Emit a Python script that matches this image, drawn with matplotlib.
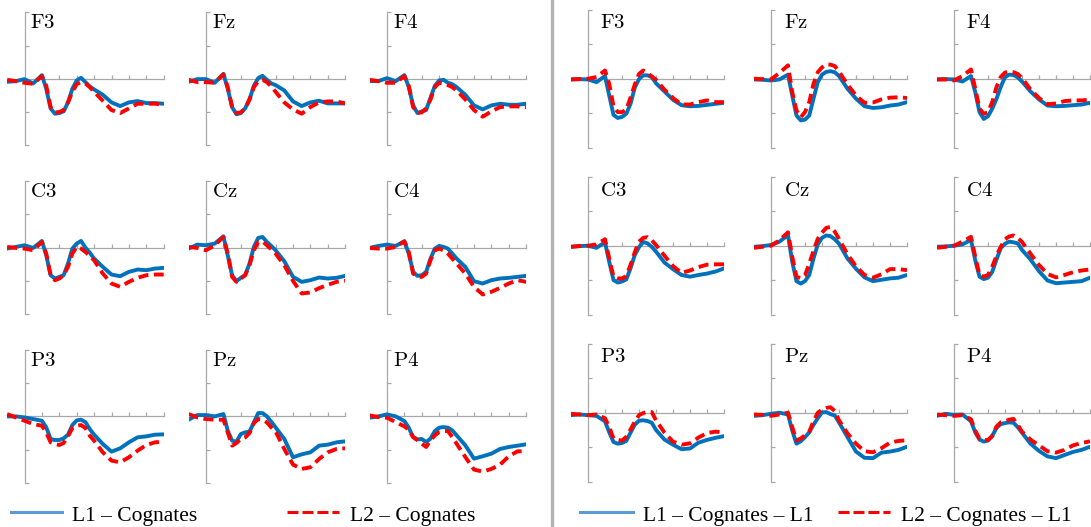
import matplotlib
matplotlib.use("Agg")
import matplotlib.pyplot as plt
from matplotlib.lines import Line2D

plt.rcParams['mathtext.fontset'] = 'cm'

# time axis (ms) shared by every trace
time_ms = [-100, -50, 0, 50, 100, 125, 150, 175, 200, 225, 250, 275, 300, 325, 350,
           375, 400, 450, 500, 550, 600, 650, 700, 750, 800]

electrodes = [["F3", "Fz", "F4"], ["C3", "Cz", "C4"], ["P3", "Pz", "P4"]]

# left panel: L1 - Cognates / L2 - Cognates
F3_L1 = [-0.09, -0.07, -0.01, -0.14, 0.11, -0.30, -0.89, -1.05, -1.03, -0.98, -0.71, -0.30, -0.05, 0.03, -0.10, -0.23, -0.32, -0.48, -0.71, -0.82, -0.71, -0.67, -0.73, -0.73, -0.75]
F3_L2 = [-0.03, -0.07, -0.12, -0.15, 0.08, -0.21, -0.85, -1.01, -1.00, -0.94, -0.71, -0.39, -0.16, -0.10, -0.14, -0.25, -0.39, -0.66, -0.94, -1.03, -0.89, -0.75, -0.75, -0.75, -0.78]
Fz_L1 = [-0.09, -0.01, -0.01, -0.12, 0.15, -0.30, -0.85, -1.07, -1.03, -0.89, -0.62, -0.21, 0.02, 0.09, -0.03, -0.14, -0.19, -0.35, -0.68, -0.82, -0.71, -0.66, -0.74, -0.74, -0.74]
Fz_L2 = [-0.03, -0.10, -0.10, -0.12, 0.13, -0.25, -0.85, -1.03, -1.01, -0.89, -0.62, -0.25, -0.07, -0.03, -0.10, -0.23, -0.39, -0.71, -0.92, -1.05, -0.85, -0.71, -0.68, -0.68, -0.74]
F4_L1 = [-0.07, -0.07, 0.02, -0.07, 0.11, -0.25, -0.80, -1.03, -0.98, -0.94, -0.57, -0.21, -0.05, -0.03, -0.12, -0.16, -0.25, -0.48, -0.80, -0.92, -0.80, -0.75, -0.78, -0.78, -0.75]
F4_L2 = [-0.03, -0.07, -0.12, -0.12, 0.08, -0.21, -0.85, -1.03, -1.01, -0.89, -0.62, -0.25, -0.12, -0.14, -0.19, -0.25, -0.35, -0.62, -0.94, -1.14, -0.98, -0.85, -0.83, -0.83, -0.85]
C3_L1 = [-0.03, 0.02, 0.07, -0.01, 0.20, -0.23, -0.83, -0.93, -0.88, -0.83, -0.48, -0.03, 0.12, 0.20, 0.00, -0.15, -0.33, -0.58, -0.81, -0.86, -0.73, -0.66, -0.68, -0.63, -0.61]
C3_L2 = [0.02, -0.01, -0.03, -0.08, 0.17, -0.18, -0.83, -0.98, -0.93, -0.83, -0.58, -0.18, 0.02, -0.03, -0.13, -0.25, -0.38, -0.78, -1.08, -1.18, -1.03, -0.91, -0.83, -0.81, -0.81]
Cz_L1 = [-0.03, 0.09, 0.07, 0.12, 0.34, -0.23, -0.83, -1.01, -0.91, -0.83, -0.48, 0.02, 0.29, 0.32, 0.17, 0.05, -0.08, -0.41, -0.88, -1.03, -0.98, -0.90, -0.93, -0.91, -0.85]
Cz_L2 = [0.02, -0.01, -0.08, 0.07, 0.32, -0.18, -0.88, -1.03, -0.93, -0.83, -0.53, -0.08, 0.17, 0.19, 0.07, -0.05, -0.18, -0.53, -1.00, -1.38, -1.35, -1.22, -1.12, -1.03, -1.00]
C4_L1 = [-0.01, 0.05, 0.09, 0.05, 0.19, -0.18, -0.73, -0.85, -0.83, -0.73, -0.33, -0.03, 0.05, 0.02, -0.03, -0.18, -0.33, -0.58, -1.01, -1.08, -0.98, -0.93, -0.91, -0.88, -0.85]
C4_L2 = [-0.01, -0.03, -0.03, 0.02, 0.19, -0.13, -0.78, -0.88, -0.88, -0.78, -0.38, -0.08, -0.03, -0.08, -0.18, -0.33, -0.48, -0.78, -1.18, -1.41, -1.33, -1.21, -1.08, -0.98, -1.03]
P3_L1 = [0.00, 0.00, -0.03, -0.08, -0.13, -0.33, -0.68, -0.71, -0.71, -0.66, -0.55, -0.26, -0.12, -0.10, -0.17, -0.38, -0.55, -0.83, -1.06, -0.96, -0.78, -0.63, -0.60, -0.55, -0.54]
P3_L2 = [0.07, -0.03, -0.13, -0.23, -0.28, -0.48, -0.78, -0.83, -0.86, -0.80, -0.60, -0.35, -0.28, -0.26, -0.35, -0.58, -0.73, -1.08, -1.33, -1.38, -1.23, -1.03, -0.86, -0.78, -0.76]
Pz_L1 = [-0.10, 0.04, 0.04, 0.00, 0.07, -0.43, -0.73, -0.76, -0.53, -0.48, -0.46, -0.18, 0.10, 0.10, 0.00, -0.16, -0.33, -0.68, -1.23, -1.14, -1.08, -0.88, -0.85, -0.78, -0.75]
Pz_L2 = [0.07, -0.03, -0.08, -0.10, -0.10, -0.48, -0.88, -0.80, -0.68, -0.63, -0.50, -0.20, -0.08, -0.10, -0.18, -0.33, -0.45, -0.98, -1.45, -1.58, -1.53, -1.28, -1.08, -0.98, -0.96]
P4_L1 = [-0.04, 0.00, 0.06, 0.00, -0.14, -0.34, -0.62, -0.69, -0.68, -0.77, -0.67, -0.44, -0.34, -0.32, -0.34, -0.42, -0.57, -0.87, -1.27, -1.20, -1.12, -0.98, -0.92, -0.88, -0.84]
P4_L2 = [0.03, -0.02, -0.04, -0.17, -0.30, -0.40, -0.62, -0.72, -0.82, -0.92, -0.72, -0.57, -0.47, -0.44, -0.44, -0.62, -0.82, -1.22, -1.60, -1.66, -1.58, -1.45, -1.20, -1.05, -1.05]

# right panel: L1 - Cognates - L1 / L2 - Cognates - L1
F3_L1d = [-0.02, -0.01, -0.02, -0.10, 0.08, -0.49, -1.05, -1.14, -1.11, -1.02, -0.73, -0.26, -0.01, 0.10, 0.10, 0.05, -0.13, -0.37, -0.61, -0.77, -0.80, -0.79, -0.76, -0.73, -0.70]
F3_L2d = [-0.02, -0.01, 0.00, 0.05, 0.24, -0.15, -0.80, -0.97, -0.97, -0.90, -0.55, -0.17, 0.14, 0.24, 0.16, 0.07, -0.03, -0.32, -0.56, -0.75, -0.75, -0.68, -0.63, -0.68, -0.68]
Fz_L1d = [-0.02, -0.03, -0.05, -0.02, 0.12, -0.49, -1.07, -1.21, -1.19, -1.07, -0.58, -0.10, 0.12, 0.20, 0.22, 0.19, 0.08, -0.29, -0.58, -0.80, -0.85, -0.83, -0.78, -0.75, -0.68]
Fz_L2d = [0.00, -0.01, -0.02, 0.17, 0.39, -0.39, -0.92, -1.12, -0.97, -0.68, -0.15, 0.19, 0.33, 0.42, 0.41, 0.37, 0.21, -0.17, -0.49, -0.70, -0.69, -0.60, -0.55, -0.54, -0.56]
F4_L1d = [-0.02, -0.01, -0.02, -0.08, 0.08, -0.39, -0.97, -1.17, -1.09, -0.87, -0.58, -0.24, 0.05, 0.12, 0.11, 0.04, -0.08, -0.37, -0.60, -0.78, -0.80, -0.79, -0.77, -0.75, -0.70]
F4_L2d = [-0.02, -0.02, -0.05, 0.08, 0.27, -0.29, -0.87, -1.02, -0.97, -0.68, -0.24, 0.05, 0.18, 0.21, 0.19, 0.14, 0.02, -0.31, -0.56, -0.74, -0.72, -0.65, -0.63, -0.63, -0.61]
C3_L1d = [-0.03, -0.01, 0.00, -0.06, 0.10, -0.47, -1.00, -1.07, -1.04, -0.98, -0.66, -0.27, -0.04, 0.11, 0.07, -0.03, -0.17, -0.49, -0.68, -0.85, -0.90, -0.85, -0.81, -0.75, -0.66]
C3_L2d = [-0.03, -0.01, 0.00, 0.04, 0.19, -0.37, -0.90, -0.95, -0.95, -0.88, -0.56, -0.19, 0.12, 0.23, 0.25, 0.16, 0.02, -0.29, -0.59, -0.79, -0.72, -0.62, -0.55, -0.54, -0.54]
Cz_L1d = [-0.03, -0.01, 0.02, 0.12, 0.31, -0.47, -1.03, -1.10, -1.03, -0.85, -0.37, 0.04, 0.23, 0.30, 0.28, 0.19, 0.06, -0.37, -0.67, -0.92, -1.03, -0.99, -0.95, -0.93, -0.85]
Cz_L2d = [-0.06, -0.03, 0.00, 0.16, 0.39, -0.32, -0.90, -0.95, -0.86, -0.52, -0.15, 0.20, 0.38, 0.52, 0.55, 0.41, 0.20, -0.25, -0.60, -0.85, -0.93, -0.83, -0.68, -0.68, -0.71]
C4_L1d = [-0.03, -0.02, 0.00, 0.04, 0.17, -0.42, -0.90, -0.97, -0.93, -0.76, -0.40, -0.07, 0.06, 0.12, 0.10, 0.07, -0.12, -0.40, -0.74, -1.01, -1.09, -1.07, -1.05, -1.03, -0.93]
C4_L2d = [-0.06, -0.03, 0.00, 0.12, 0.26, -0.32, -0.85, -0.90, -0.85, -0.61, -0.29, -0.03, 0.19, 0.27, 0.30, 0.23, 0.11, -0.23, -0.56, -0.82, -0.92, -0.85, -0.77, -0.72, -0.69]
P3_L1d = [-0.07, -0.05, -0.07, -0.09, -0.25, -0.57, -0.85, -0.90, -0.88, -0.82, -0.58, -0.35, -0.23, -0.22, -0.24, -0.29, -0.50, -0.78, -0.93, -1.06, -1.04, -0.87, -0.79, -0.73, -0.68]
P3_L2d = [-0.03, -0.05, -0.07, -0.05, -0.16, -0.42, -0.75, -0.79, -0.81, -0.70, -0.49, -0.26, -0.07, -0.01, 0.03, 0.02, -0.22, -0.58, -0.84, -0.93, -0.89, -0.72, -0.59, -0.55, -0.57]
Pz_L1d = [-0.09, -0.07, -0.03, 0.00, -0.05, -0.52, -0.90, -0.83, -0.71, -0.57, -0.35, -0.16, 0.01, 0.02, -0.04, -0.08, -0.28, -0.71, -1.13, -1.31, -1.32, -1.16, -1.13, -1.08, -0.99]
Pz_L2d = [-0.05, -0.06, -0.09, -0.05, 0.00, -0.42, -0.80, -0.75, -0.65, -0.55, -0.25, 0.00, 0.09, 0.14, 0.16, 0.05, -0.22, -0.60, -0.90, -1.12, -1.15, -1.03, -0.87, -0.82, -0.80]
P4_L1d = [-0.09, -0.03, -0.06, -0.05, -0.25, -0.57, -0.78, -0.84, -0.81, -0.67, -0.44, -0.33, -0.30, -0.28, -0.29, -0.42, -0.58, -0.90, -1.11, -1.27, -1.32, -1.23, -1.14, -1.08, -0.99]
P4_L2d = [-0.05, -0.07, -0.09, -0.07, -0.19, -0.52, -0.76, -0.80, -0.79, -0.68, -0.40, -0.28, -0.25, -0.20, -0.18, -0.35, -0.55, -0.78, -0.95, -1.12, -1.16, -1.08, -0.95, -0.88, -0.83]

left_data = {
    "F3": (F3_L1, F3_L2), "Fz": (Fz_L1, Fz_L2), "F4": (F4_L1, F4_L2),
    "C3": (C3_L1, C3_L2), "Cz": (Cz_L1, Cz_L2), "C4": (C4_L1, C4_L2),
    "P3": (P3_L1, P3_L2), "Pz": (Pz_L1, Pz_L2), "P4": (P4_L1, P4_L2),
}
right_data = {
    "F3": (F3_L1d, F3_L2d), "Fz": (Fz_L1d, Fz_L2d), "F4": (F4_L1d, F4_L2d),
    "C3": (C3_L1d, C3_L2d), "Cz": (Cz_L1d, Cz_L2d), "C4": (C4_L1d, C4_L2d),
    "P3": (P3_L1d, P3_L2d), "Pz": (Pz_L1d, Pz_L2d), "P4": (P4_L1d, P4_L2d),
}

W, H = 1091, 527
BLUE = '#0072bd'
RED = '#ff0000'
AXC = '#a8a8a8'

fig = plt.figure(figsize=(W / 100, H / 100), dpi=100)


def small_plot(x0, top, h, scale, name, l1, l2, lab_dx, lab_dy):
    # x0: pixel of the 0 ms axis, scale: pixels per 100 ms
    left = x0 - scale
    width = 9 * scale
    ax = fig.add_axes([left / W, 1 - (top + h) / H, width / W, h / H])
    ax.plot(time_ms, l1, color=BLUE, lw=2.8, solid_joinstyle='round',
            solid_capstyle='round', zorder=3)
    ax.plot(time_ms, l2, color=RED, lw=2.8, dashes=(2.6, 1.4), zorder=4)
    ax.set_xlim(-100, 800)
    ax.set_ylim(-2, 2)
    for s in ['top', 'right']:
        ax.spines[s].set_visible(False)
    ax.spines['left'].set_position(('data', 0))
    ax.spines['bottom'].set_position(('data', 0))
    ax.spines['left'].set_bounds(-2, 2)
    ax.spines['bottom'].set_bounds(0, 800)
    for s in ['left', 'bottom']:
        ax.spines[s].set_color(AXC)
        ax.spines[s].set_linewidth(0.9)
        ax.spines[s].set_zorder(1)
    ax.set_xticks(range(100, 900, 100))
    ax.set_yticks([-2, -1, 1, 2])
    ax.tick_params(direction='in', length=3, width=0.9, color=AXC,
                   labelbottom=False, labelleft=False)
    ax.patch.set_alpha(0)
    fig.text((x0 + lab_dx) / W, 1 - (top + lab_dy) / H, r'$\mathrm{%s}$' % name,
             fontsize=15, va='top', ha='left')


# left panel
for r, row in enumerate(electrodes):
    for c, name in enumerate(row):
        small_plot([24.5, 206, 387][c], 12.3 + r * 168.8, 133, 17.4, name,
                   *left_data[name], lab_dx=6, lab_dy=0)

# right panel
for r, row in enumerate(electrodes):
    for c, name in enumerate(row):
        small_plot([588, 771, 954][c], 10 + r * 167, 137.5, 17.0, name,
                   *right_data[name], lab_dx=12.5, lab_dy=2.5)

# divider between panels
fig.add_artist(Line2D([551.5 / W, 551.5 / W], [0, 1], color='#b3b3b3', lw=2.4))

# legends
def legend_item(x1, x2, text_x, label, color, dashed):
    y = 1 - 512 / H
    kw = dict(color=color, lw=2.2)
    if dashed:
        kw['dashes'] = (3.6, 1.3)
    fig.add_artist(Line2D([x1 / W, x2 / W], [y, y], **kw))
    fig.text(text_x / W, 1 - 521.5 / H, label, fontsize=15.5, family='Liberation Serif',
             va='baseline', ha='left')


legend_item(10.5, 62, 72, 'L1 – Cognates', '#5b9bd5', False)
legend_item(287, 339, 350, 'L2 – Cognates', RED, True)
legend_item(580, 633, 643, 'L1 – Cognates – L1', '#5b9bd5', False)
legend_item(838, 890, 901, 'L2 – Cognates – L1', RED, True)

fig.savefig('out.png', dpi=100)
